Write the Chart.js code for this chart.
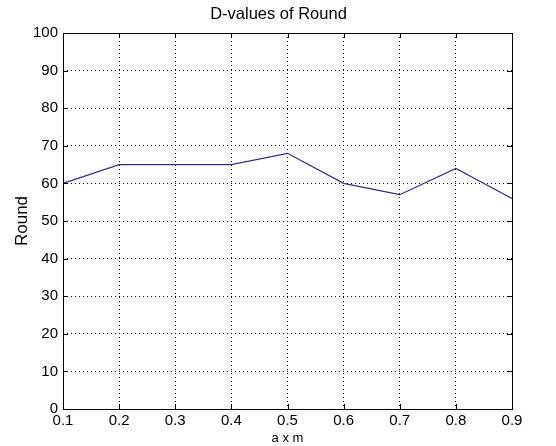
<!DOCTYPE html>
<html lang="en">
  <head>
    <meta charset="UTF-8" />
    <title>D-values of Round</title>
    <script src="https://cdn.jsdelivr.net/npm/chart.js@4.4.1/dist/chart.umd.min.js"></script>
    <style>
      html, body {
        margin: 0;
        padding: 0;
        background: #ffffff;
      }
      .chart-container {
        width: 556px;
        height: 446px;
      }
    </style>
  </head>
  <body>
    <div class="chart-container">
      <canvas id="myChart"></canvas>
    </div>

    <script>
      // values
      const xLabels = ["0.1", "0.2", "0.3", "0.4", "0.5", "0.6", "0.7", "0.8", "0.9"];
      const roundValues = [60, 65, 65, 65, 68, 60, 57, 64, 56];
      const yMin = 0;
      const yMax = 100;
      const yStep = 10;

      const textFont = "'Liberation Sans', Arial, sans-serif";

      // box around the plot + matlab style inward ticks
      const boxPlugin = {
        id: "box",
        afterLayout(chart) {
          // centre the title a bit further right, like the original figure
          const tb = chart.titleBlock;
          if (tb) {
            tb.left = 45;
            tb.width = tb.right - tb.left;
          }
        },
        afterDraw(chart) {
          const { ctx, chartArea: a } = chart;
          const xs = chart.scales.x;
          const ys = chart.scales.y;
          const len = 5;
          ctx.save();
          ctx.strokeStyle = "#000";
          ctx.lineWidth = 1;
          ctx.beginPath();
          xs.ticks.forEach((t, i) => {
            const px = Math.round(xs.getPixelForTick(i)) + 0.5;
            ctx.moveTo(px, a.bottom);
            ctx.lineTo(px, a.bottom - len);
            ctx.moveTo(px, a.top);
            ctx.lineTo(px, a.top + len);
          });
          ys.ticks.forEach((t, i) => {
            const py = Math.round(ys.getPixelForTick(i)) + 0.5;
            ctx.moveTo(a.left, py);
            ctx.lineTo(a.left + len, py);
            ctx.moveTo(a.right, py);
            ctx.lineTo(a.right - len, py);
          });
          ctx.stroke();
          ctx.strokeRect(
            Math.round(a.left) + 0.5,
            Math.round(a.top) + 0.5,
            Math.round(a.right - a.left),
            Math.round(a.bottom - a.top)
          );
          ctx.restore();
        },
      };

      const ctx = document.getElementById("myChart").getContext("2d");
      const myChart = new Chart(ctx, {
        type: "line",
        data: {
          labels: xLabels,
          datasets: [
            {
              label: "Round",
              data: roundValues,
              borderColor: "#2e2e8c",
              backgroundColor: "#2e2e8c",
              borderWidth: 1.2,
              pointRadius: 0,
              tension: 0,
            },
          ],
        },
        options: {
          responsive: true,
          maintainAspectRatio: false,
          animation: false,
          layout: {
            padding: { left: 0, right: 44, top: 0, bottom: 0 },
          },
          scales: {
            x: {
              offset: false,
              grid: {
                offset: false,
                color: "#000",
                lineWidth: 1,
                drawTicks: false,
              },
              border: { display: false, dash: [1, 3] },
              ticks: {
                color: "#000",
                padding: 3,
                maxRotation: 0,
                autoSkip: false,
                font: { family: textFont, size: 15 },
              },
              title: {
                display: true,
                text: "a x m",
                color: "#000",
                padding: { top: 0, bottom: 0 },
                font: { family: textFont, size: 13 },
              },
              afterFit(scale) {
                scale.height = 37;
              },
            },
            y: {
              min: yMin,
              max: yMax,
              grid: {
                color: "#000",
                lineWidth: 1,
                drawTicks: false,
              },
              border: { display: false, dash: [1, 3] },
              ticks: {
                stepSize: yStep,
                color: "#000",
                padding: 5,
                font: { family: textFont, size: 15 },
              },
              title: {
                display: true,
                text: "Round",
                color: "#000",
                padding: { top: 12, bottom: 0 },
                font: { family: textFont, size: 17 },
              },
              afterFit(scale) {
                scale.width = 63;
              },
            },
          },
          plugins: {
            legend: { display: false },
            tooltip: { enabled: false },
            title: {
              display: true,
              text: "D-values of Round",
              color: "#000",
              padding: { top: 5, bottom: 8.2 },
              font: { family: textFont, size: 16.5, weight: "normal" },
            },
          },
        },
        plugins: [boxPlugin],
      });
    </script>
  </body>
</html>
